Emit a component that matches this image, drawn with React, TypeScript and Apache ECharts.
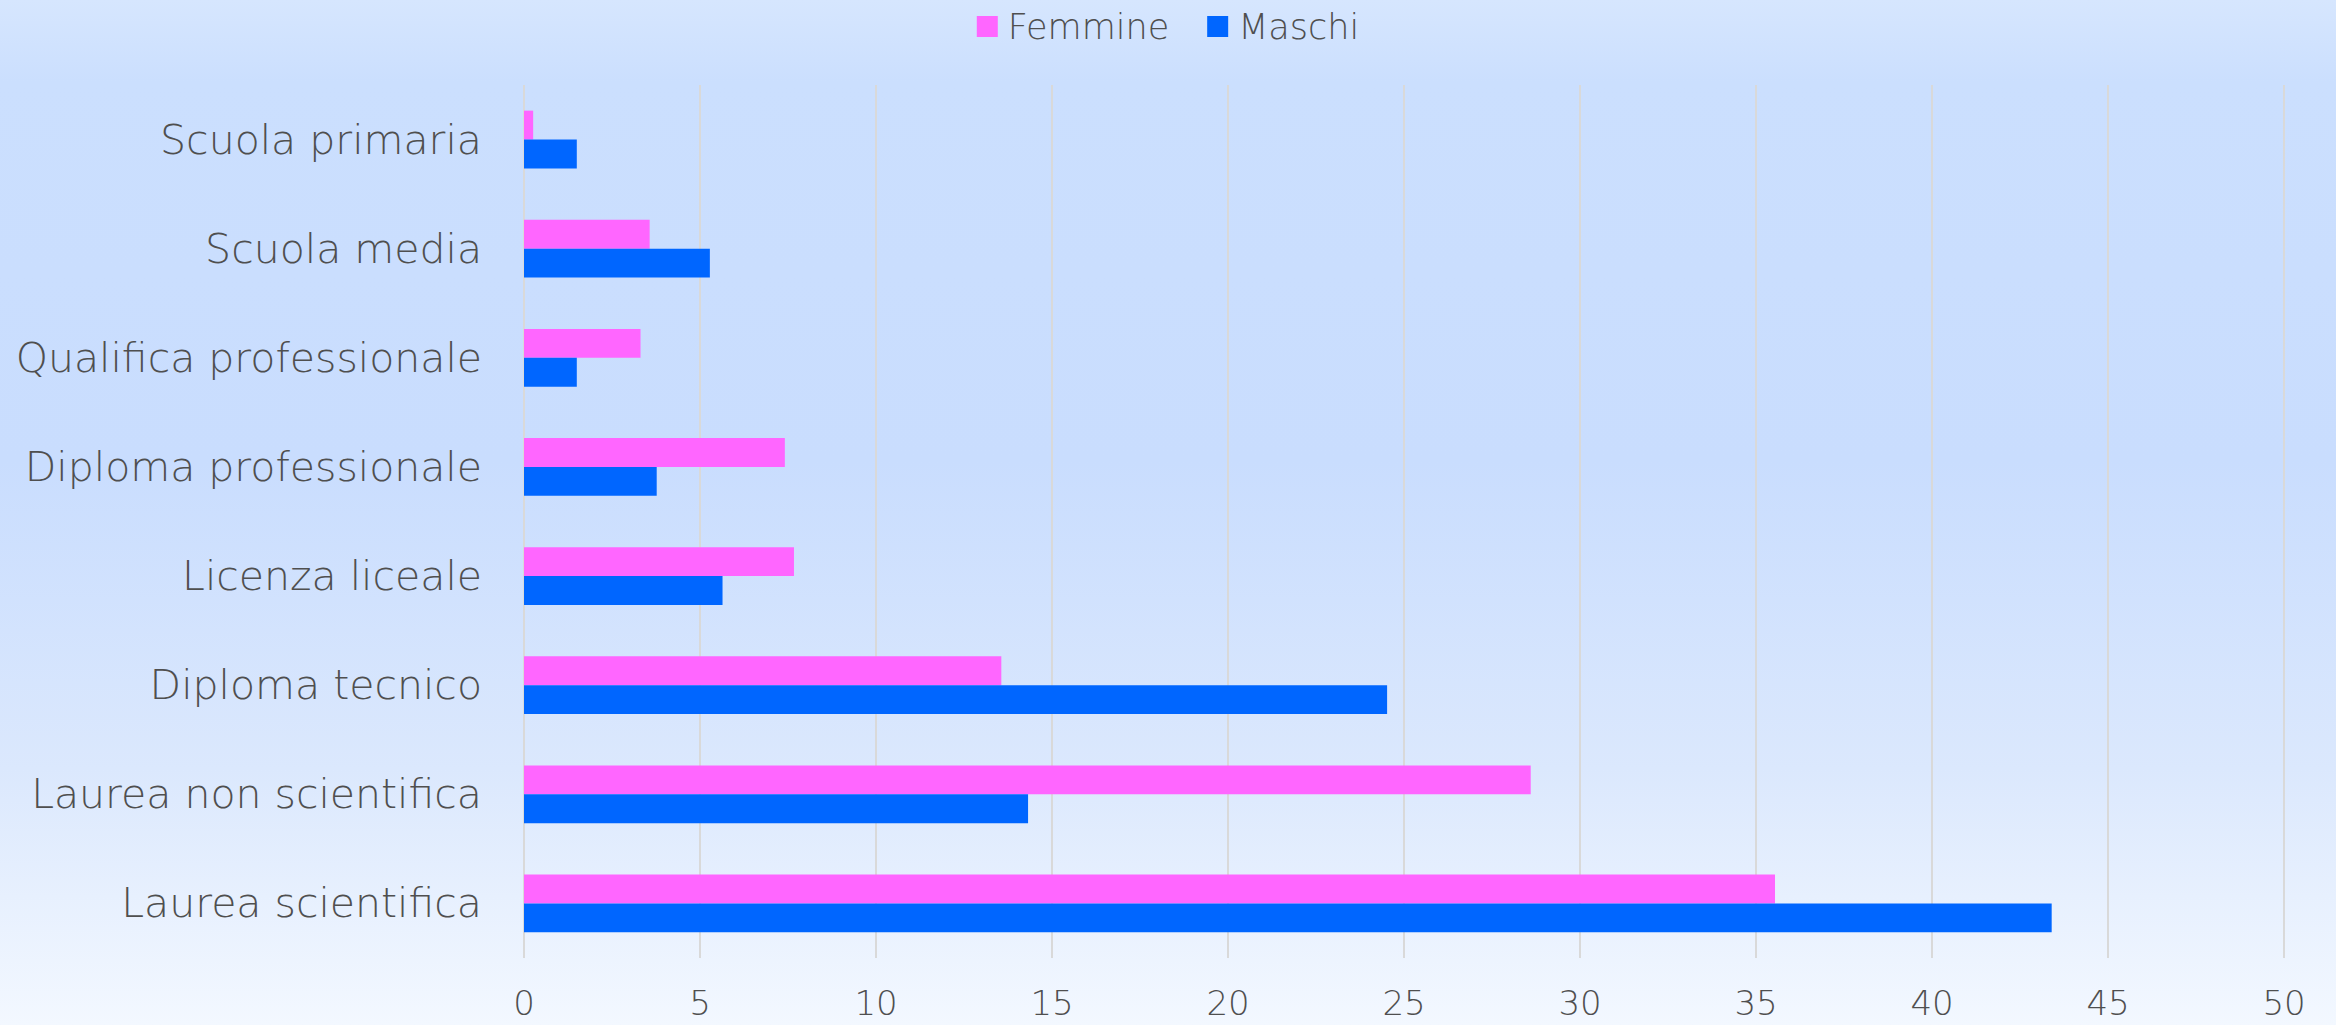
import React, { useEffect, useRef } from "react";
import * as echarts from "echarts";

const categories = [
  "Scuola primaria",
  "Scuola media",
  "Qualifica professionale",
  "Diploma professionale",
  "Licenza liceale",
  "Diploma tecnico",
  "Laurea non scientifica",
  "Laurea scientifica",
];
const femmine = [0.26, 3.57, 3.31, 7.41, 7.67, 13.56, 28.6, 35.54];
const maschi = [1.5, 5.28, 1.5, 3.77, 5.64, 24.52, 14.32, 43.4];
const seriesNames = ["Femmine", "Maschi"];

const FONT = "'DejaVu Sans', sans-serif";
const TEXT = "#4f4f4f";

export default function App() {
  const ref = useRef<HTMLDivElement>(null);
  useEffect(() => {
    if (!ref.current) return;
    const chart = echarts.init(ref.current, null, { renderer: "svg" });
    chart.setOption({
      animation: false,
      backgroundColor: {
        type: "linear",
        x: 0,
        y: 0,
        x2: 0,
        y2: 1,
        colorStops: [
          { offset: 0, color: "#d6e6fe" },
          { offset: 0.08, color: "#cbdffe" },
          { offset: 0.45, color: "#c9ddfe" },
          { offset: 0.75, color: "#dbe8fd" },
          { offset: 1, color: "#f3f8ff" },
        ],
      },
      textStyle: { fontFamily: FONT },
      legend: {
        top: 4,
        left: "center",
        itemWidth: 21,
        itemHeight: 21,
        itemGap: 38,
        icon: "rect",
        textStyle: {
          fontSize: 35,
          color: TEXT,
          fontFamily: FONT,
          fontWeight: 200,
          padding: [0, 0, 0, 5],
        },
        data: seriesNames,
      },
      grid: { left: 524, right: 52, top: 85, bottom: 67, containLabel: false },
      xAxis: {
        type: "value",
        min: 0,
        max: 50,
        interval: 5,
        axisLine: { show: false },
        axisTick: { show: false },
        axisLabel: { fontSize: 34, color: TEXT, margin: 28, fontFamily: FONT, fontWeight: 200 },
        splitLine: { show: true, lineStyle: { color: "#d9d9d9", width: 2 } },
      },
      yAxis: {
        type: "category",
        inverse: true,
        data: categories,
        axisLine: { show: false },
        axisTick: { show: false },
        axisLabel: { fontSize: 41, color: TEXT, margin: 42, fontFamily: FONT, fontWeight: 200 },
      },
      series: [
        {
          name: seriesNames[0],
          type: "bar",
          data: femmine,
          itemStyle: { color: "#ff66ff" },
          barGap: "0%",
          barCategoryGap: "47%",
        },
        {
          name: seriesNames[1],
          type: "bar",
          data: maschi,
          itemStyle: { color: "#0066ff" },
          barGap: "0%",
          barCategoryGap: "47%",
        },
      ],
    });
    return () => chart.dispose();
  }, []);
  return (
    <div
      ref={ref}
      style={{ position: "fixed", left: 0, top: 0, width: 2336, height: 1025 }}
    />
  );
}
